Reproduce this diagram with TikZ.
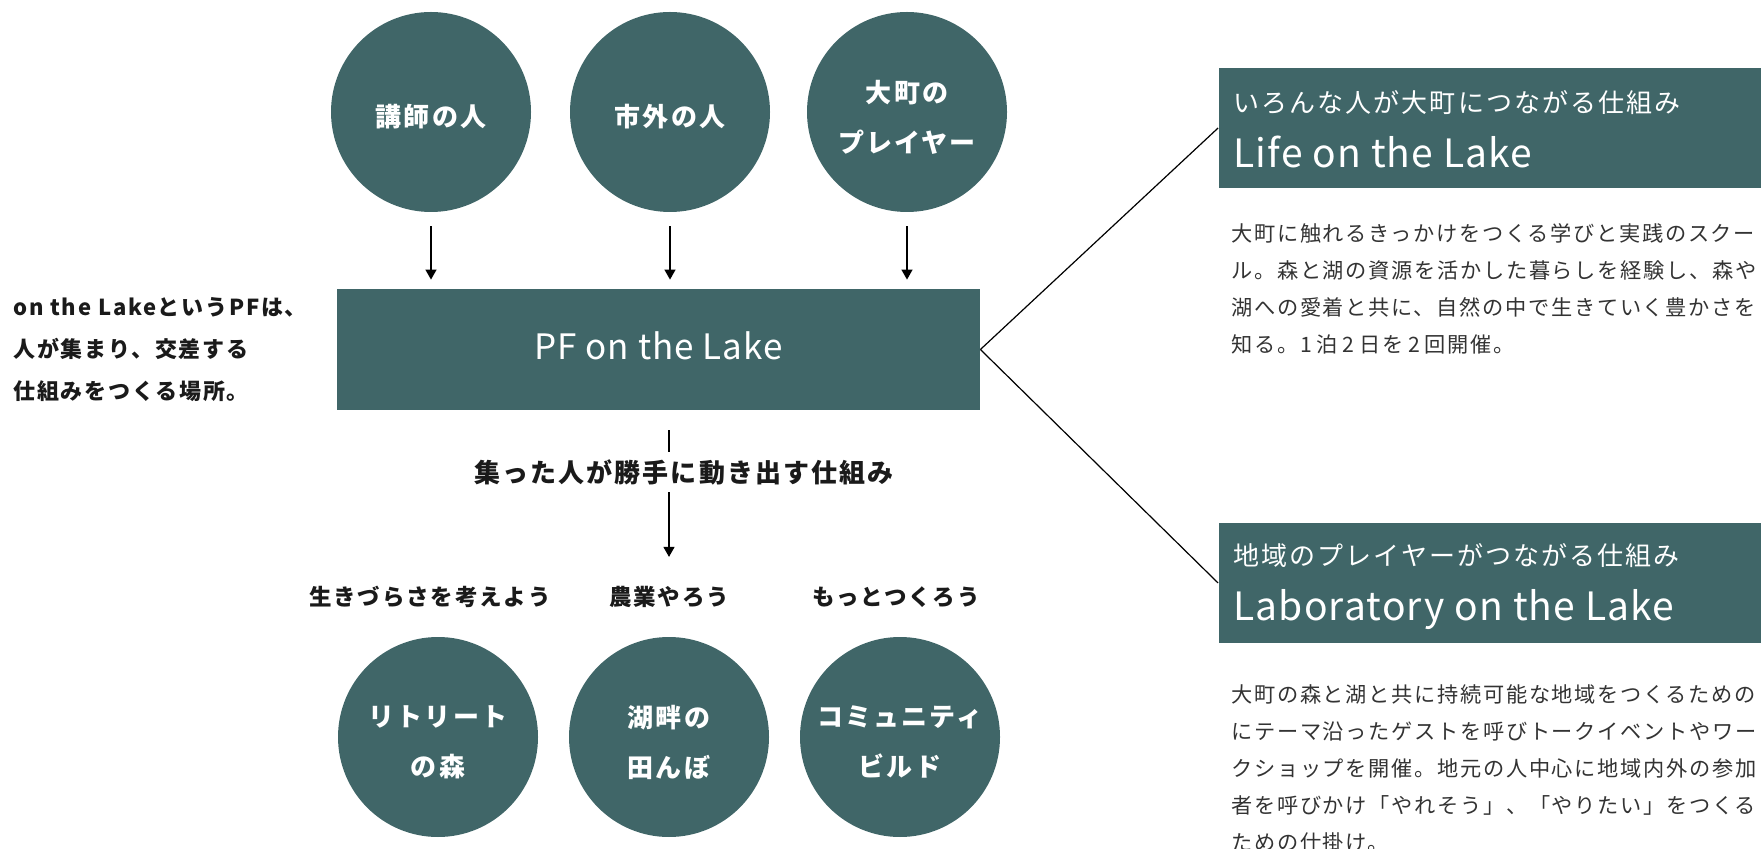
\documentclass[tikz,border=0pt]{standalone}
\usepackage{fontspec}
\setmainfont{Noto Sans CJK JP}[LetterSpace=8]
\newfontfamily\latinfont{Noto Sans CJK JP}[LetterSpace=3]
\usetikzlibrary{arrows.meta}
\definecolor{tealbox}{HTML}{406668}
\definecolor{bodyc}{HTML}{333333}
\definecolor{darkc}{HTML}{1A1A1A}
\newcommand{\dgap}{\hspace{2.4pt}}
\begin{document}
\begin{tikzpicture}[x=0.5pt,y=-0.5pt,
  circ/.style={circle, fill=tealbox, minimum size=100pt, inner sep=0pt},
  circtext/.style={inner sep=0pt, text=white, align=center,
    font=\fontsize{13}{25}\selectfont\bfseries},
  pfbox/.style={rectangle, fill=tealbox, minimum width=321.5pt, minimum height=60.5pt,
    inner sep=0pt, text=white, text depth=4pt, font=\latinfont\fontsize{17.5}{20}\selectfont},
  sidebox/.style={rectangle, fill=tealbox, minimum width=291pt, minimum height=60pt, inner sep=0pt},
  titlejp/.style={anchor=west, inner sep=0pt, text=white, font=\fontsize{13}{16}\selectfont},
  titleen/.style={anchor=base west, inner sep=0pt, text=white, font=\latinfont\fontsize{19.5}{22}\selectfont},
  bodytext/.style={anchor=west, inner sep=0pt, text=bodyc, align=left,
    font=\fontsize{10.6}{18.5}\selectfont},
  lbl/.style={inner sep=0pt, text=darkc, font=\fontsize{11.25}{14}\selectfont\bfseries},
  arr/.style={-{Triangle[width=5.5pt,length=5pt]}, line width=0.65pt, black},
  conn/.style={line width=0.6pt, black}
]
\useasboundingbox (0,0) rectangle (1761,849);
\clip (0,0) rectangle (1761,849);

% top circles
\node[circ] (c1) at (431,112) {};
\node[circ] (c2) at (670,112) {};
\node[circ] (c3) at (907,112) {};
\node[circtext] (c1t) at ([yshift=-2.5pt]c1.center) {講師の人};
\node[circtext] (c2t) at ([yshift=-2.5pt]c2.center) {市外の人};
\node[circtext] (c3t) at ([yshift=-2.5pt]c3.center) {大町の\\プレイヤー};

% central platform box
\node[pfbox] (pf) at (658.5,349.5) {PF on the Lake};

% left description
\node[anchor=west, inner sep=0pt, align=left, text=darkc,
  font=\fontsize{11}{21}\selectfont\bfseries] (desc) at (13,350)
  {on the LakeというPFは、\\人が集まり、交差する\\仕組みをつくる場所。};

% arrows from circles into the box
\foreach \c in {c1,c2,c3}
  \draw[arr, shorten <=7pt, shorten >=4.5pt] (\c) -- (\c |- pf.north);

% bottom labels and circles
\node[lbl] (l1) at (430,597) {生きづらさを考えよう};
\node[lbl] (l2) at (669,597) {農業やろう};
\node[lbl] (l3) at (896,597) {もっとつくろう};

\node[circ] (b1) at (438,737) {};
\node[circ] (b2) at (669,737) {};
\node[circ] (b3) at (900,737) {};
\node[circtext] (b1t) at ([yshift=-2.5pt]b1.center) {リトリート\\の森};
\node[circtext] (b2t) at ([yshift=-2.5pt]b2.center) {湖畔の\\田んぼ};
\node[circtext] (b3t) at ([yshift=-2.5pt]b3.center) {コミュニティ\\ビルド};

% downward arrow with its label
\draw[arr, shorten <=10pt, shorten >=14.5pt] (pf.south -| l2) -- (l2.north);
\node[fill=white, inner xsep=2pt, inner ysep=3.5pt, text=darkc,
  font=\fontsize{13}{16}\selectfont\bfseries] (mech) at (684,472)
  {集った人が勝手に動き出す仕組み};

% right side boxes
\node[sidebox] (life) at (1509.5,128) {};
\node[sidebox] (lab) at (1509.5,583) {};

\node[titlejp] (lifejp) at (1233,103) {いろんな人が大町につながる仕組み};
\node[titleen] (lifeen) at (1233,168) {Life on the Lake};
\node[titlejp] (labjp) at (1233,556) {地域のプレイヤーがつながる仕組み};
\node[titleen] (laben) at (1233,620) {Laboratory on the Lake};

\node[bodytext] (lifebody) at (1231,288.5)
  {大町に触れるきっかけをつくる学びと実践のスクー\\
   ル。森と湖の資源を活かした暮らしを経験し、森や\\
   湖への愛着と共に、自然の中で生きていく豊かさを\\
   知る。1\dgap 泊\dgap 2\dgap 日を\dgap 2\dgap 回開催。};
\node[bodytext] (labbody) at (1231,768)
  {大町の森と湖と共に持続可能な地域をつくるための\\
   にテーマ沿ったゲストを呼びトークイベントやワー\\
   クショップを開催。地元の人中心に地域内外の参加\\
   者を呼びかけ「やれそう」、「やりたい」をつくる\\
   ための仕掛け。};

% connectors
\draw[conn] (pf.east) -- (life.west);
\draw[conn] (pf.east) -- (lab.west);
\end{tikzpicture}
\end{document}
